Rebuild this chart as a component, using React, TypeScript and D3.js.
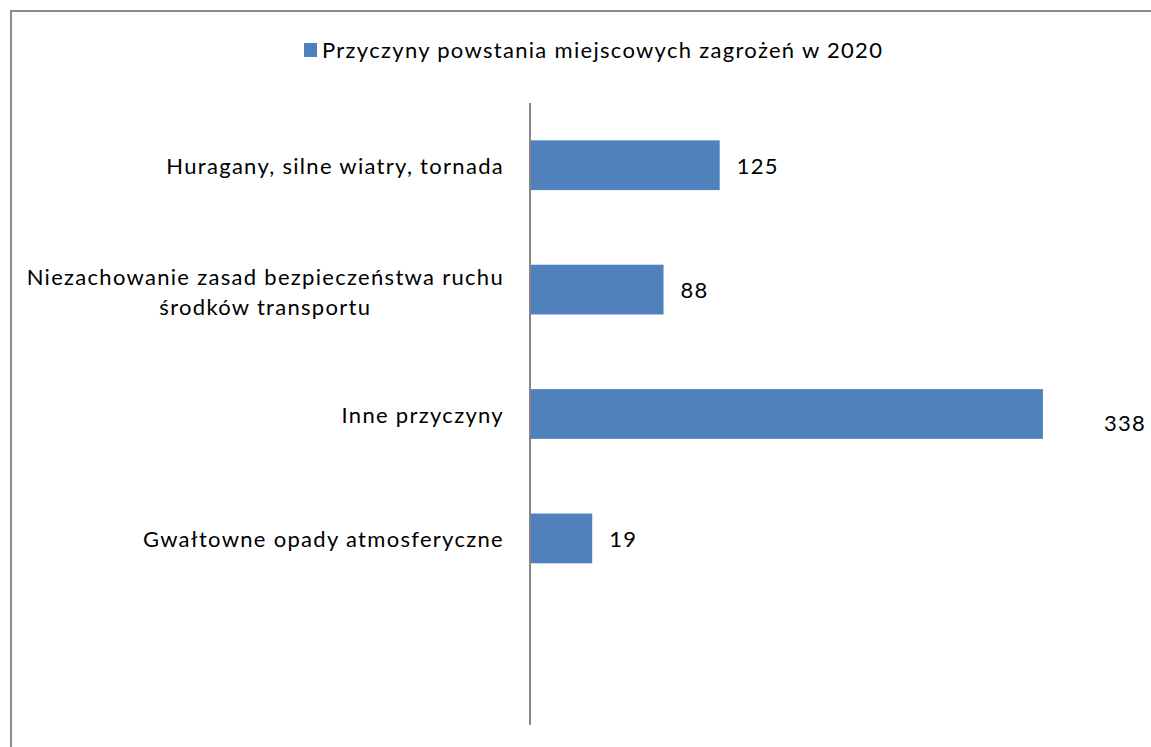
import { useEffect, useRef } from 'react';
import * as d3 from 'd3';

const categories = [
  'Huragany, silne wiatry, tornada',
  'Niezachowanie zasad bezpieczeństwa ruchu|środków transportu',
  'Inne przyczyny',
  'Gwałtowne opady atmosferyczne',
  '',
];
// bar lengths as drawn in the picture
const values = [125, 88, 338, 41, null];
// data label texts as printed
const dataLabels = ['125', '88', '338', '19', ''];
const seriesName = 'Przyczyny powstania miejscowych zagrożeń w 2020';

const W = 1151;
const H = 747;
const FONT = "Lato, 'Open Sans', sans-serif";
const FS = 22;
const LS = 1.3;
const BLUE = '#4f81bd';

const App = () => {
  const svgRef = useRef<SVGSVGElement>(null);

  useEffect(() => {
    const svg = d3.select(svgRef.current);
    svg.selectAll('*').remove();

    // outer frame (right/bottom edges fall outside the picture)
    svg.append('rect')
      .attr('x', 11).attr('y', 11)
      .attr('width', W + 20).attr('height', H + 20)
      .attr('fill', 'white')
      .attr('stroke', '#8c8c8c')
      .attr('stroke-width', 2);

    const left = 530;
    const top = 103;
    const bottom = 725;
    const labelRight = 504;

    const y = d3.scaleBand<string>()
      .domain(categories.map((c, i) => i + ''))
      .range([top, bottom])
      .paddingInner(0.6)
      .paddingOuter(0.3);

    const x = d3.scaleLinear().domain([0, 400]).range([left, 1137]);

    const g = svg.append('g')
      .attr('font-family', FONT)
      .attr('font-size', FS)
      .attr('letter-spacing', LS)
      .attr('fill', '#000');

    g.selectAll('rect.bar')
      .data(values.map((v, i) => ({ v, i })).filter(d => d.v != null))
      .enter().append('rect')
      .attr('class', 'bar')
      .attr('x', x(0))
      .attr('y', d => y(d.i + '')!)
      .attr('width', d => x(d.v as number) - x(0))
      .attr('height', y.bandwidth())
      .attr('fill', BLUE);

    // axis line
    g.append('line')
      .attr('x1', left).attr('x2', left)
      .attr('y1', top).attr('y2', bottom)
      .attr('stroke', '#868686')
      .attr('stroke-width', 2);

    // category labels: block right-aligned, lines centred within the block
    categories.forEach((c, i) => {
      if (!c) return;
      const lines = c.split('|');
      const cy = y(i + '')! + y.bandwidth() / 2;
      const t = g.append('text').attr('text-anchor', 'end');
      const spans = lines.map((ln, k) =>
        t.append('tspan')
          .attr('x', labelRight)
          .attr('y', cy + (k - (lines.length - 1) / 2) * 30 + (lines.length > 1 ? 10 : 8.5))
          .text(ln));
      if (lines.length > 1) {
        const widths = spans.map(s => (s.node() as SVGTextContentElement).getComputedTextLength());
        const maxW = d3.max(widths)!;
        t.attr('text-anchor', 'middle');
        spans.forEach(s => s.attr('x', labelRight - maxW / 2));
      }
    });

    // data labels
    values.forEach((v, i) => {
      if (v == null) return;
      const cy = y(i + '')! + y.bandwidth() / 2;
      const far = x(v) > 1000;
      g.append('text')
        .attr('x', far ? 1104 : x(v) + 17)
        .attr('y', cy + (far ? 17 : 8.5))
        .text(dataLabels[i]);
    });

    // legend
    svg.append('rect')
      .attr('x', 304).attr('y', 43)
      .attr('width', 13).attr('height', 14)
      .attr('fill', BLUE);
    svg.append('text')
      .attr('x', 322).attr('y', 58)
      .attr('font-family', FONT)
      .attr('font-size', FS)
      .attr('letter-spacing', LS)
      .attr('fill', '#000')
      .text(seriesName);
  }, []);

  return (
    <svg ref={svgRef} width={W} height={H} style={{ position: 'absolute', left: 0, top: 0 }} />
  );
};

export default App;
